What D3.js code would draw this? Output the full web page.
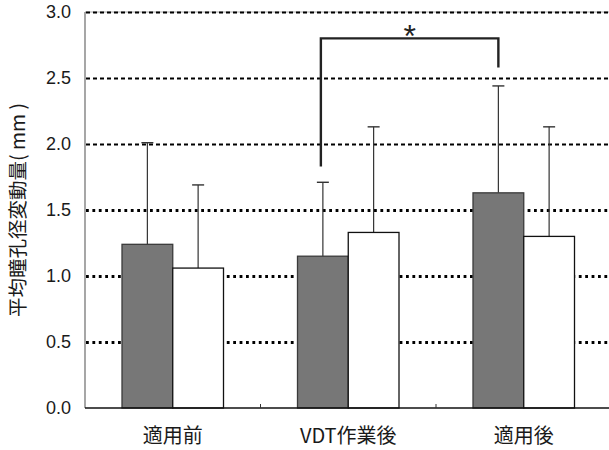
<!DOCTYPE html>
<html>
<head>
<meta charset="utf-8">
<script src="https://cdn.jsdelivr.net/npm/d3@7"></script>
<style>
  html, body { margin: 0; padding: 0; background: #fff; }
  svg { display: block; }
</style>
</head>
<body>
<svg id="chart" width="609" height="450"></svg>
<script>
// Conditions along the x axis
const categories = ["適用前", "VDT作業後", "適用後"];
// Two measurement series per condition (dark bar, white bar)
const seriesNames = ["s1", "s2"];
const meanS1 = [1.24, 1.15, 1.63];
const meanS2 = [1.06, 1.33, 1.30];
const sdS1 = [0.77, 0.56, 0.81];
const sdS2 = [0.63, 0.80, 0.83];
// Y axis ticks
const yTicks = [0, 0.5, 1.0, 1.5, 2.0, 2.5, 3.0];
const yTitle = "平均瞳孔径変動量( mm )";
// Significance bracket between s1 of VDT作業後 and s1 of 適用後
const bracket = { from: "VDT作業後", to: "適用後", series: "s1", top: 2.80, leftEnd: 1.83, rightEnd: 2.58, label: "*" };

const rows = categories.map((c, i) => ({
  cat: c,
  bars: [
    { key: "s1", mean: meanS1[i], sd: sdS1[i] },
    { key: "s2", mean: meanS2[i], sd: sdS2[i] }
  ]
}));

const svg = d3.select("#chart");
const plotLeft = 85, plotTop = 12, plotBottom = 408, plotRight = 611.5, W = 609;

const y = d3.scaleLinear().domain([0, 3]).range([plotBottom, plotTop]);
const x0 = d3.scaleBand().domain(categories).range([plotLeft, plotRight]).padding(0);
const x1 = d3.scaleBand().domain(seriesNames).range([0, x0.bandwidth()])
  .paddingInner(0).paddingOuter(0.729);

// Gridlines (upper ones are dashed, lower ones heavier dots)
svg.append("line")
  .attr("x1", plotLeft).attr("x2", W).attr("y1", y(3)).attr("y2", y(3))
  .attr("stroke", "#aaa").attr("stroke-width", 1);
svg.append("g").selectAll("line")
  .data(yTicks.filter(d => d > 0))
  .join("line")
  .attr("x1", plotLeft + 1).attr("x2", W)
  .attr("y1", d => Math.round(y(d)) + 0.5).attr("y2", d => Math.round(y(d)) + 0.5)
  .attr("stroke", "#000")
  .attr("stroke-width", d => d >= 2 ? 1.8 : 2.8)
  .attr("stroke-dasharray", d => d >= 2 ? "4,3" : "2.8,3.6");

// Bars
const groups = svg.append("g").selectAll("g")
  .data(rows)
  .join("g")
  .attr("transform", d => `translate(${x0(d.cat)},0)`);

// Error bars (upper only)
groups.selectAll("g.err")
  .data(d => d.bars)
  .join("g")
  .attr("class", "err")
  .each(function (d) {
    const cx = x1(d.key) + x1.bandwidth() / 2;
    const g = d3.select(this);
    g.append("line")
      .attr("x1", cx).attr("x2", cx)
      .attr("y1", y(d.mean)).attr("y2", y(d.mean + d.sd))
      .attr("stroke", "#333").attr("stroke-width", 1.2);
    g.append("line")
      .attr("x1", cx - 6).attr("x2", cx + 6)
      .attr("y1", y(d.mean + d.sd)).attr("y2", y(d.mean + d.sd))
      .attr("stroke", "#333").attr("stroke-width", 1.4);
  });

groups.selectAll("rect")
  .data(d => d.bars)
  .join("rect")
  .attr("x", d => x1(d.key))
  .attr("y", d => y(d.mean))
  .attr("width", x1.bandwidth())
  .attr("height", d => y(0) - y(d.mean))
  .attr("fill", d => d.key === "s1" ? "#777777" : "#ffffff")
  .attr("stroke", d => d.key === "s1" ? "#3a3a3a" : "#111")
  .attr("stroke-width", 1.3);

// Axes lines
svg.append("line")
  .attr("x1", plotLeft).attr("x2", plotLeft).attr("y1", plotTop).attr("y2", plotBottom)
  .attr("stroke", "#777").attr("stroke-width", 1.3);
svg.append("line")
  .attr("x1", plotLeft).attr("x2", W).attr("y1", plotBottom).attr("y2", plotBottom)
  .attr("stroke", "#111").attr("stroke-width", 1.3);
// Small inner ticks between categories
svg.append("g").selectAll("line")
  .data(categories.slice(1))
  .join("line")
  .attr("x1", d => x0(d)).attr("x2", d => x0(d))
  .attr("y1", plotBottom).attr("y2", plotBottom - 4)
  .attr("stroke", "#333").attr("stroke-width", 1);

// Y tick labels
svg.append("g").selectAll("text")
  .data(yTicks)
  .join("text")
  .attr("x", 71)
  .attr("y", d => y(d))
  .attr("dy", "0.36em")
  .attr("text-anchor", "end")
  .attr("font-family", "Liberation Sans, Arial, sans-serif")
  .attr("font-size", 18)
  .attr("fill", "#1a1a1a")
  .text(d => d.toFixed(1));

// X category labels
svg.append("g").selectAll("text")
  .data(categories)
  .join("text")
  .attr("x", d => x0(d) + x0.bandwidth() / 2)
  .attr("y", 443)
  .attr("text-anchor", "middle")
  .attr("font-family", "Noto Sans CJK JP, sans-serif")
  .attr("font-size", 20)
  .attr("fill", "#1a1a1a")
  .text(d => d);

// Y axis title
svg.append("text")
  .attr("transform", "translate(25,210) rotate(-90)")
  .attr("text-anchor", "middle")
  .attr("font-family", "Noto Sans CJK JP, sans-serif")
  .attr("font-size", 19.5)
  .attr("fill", "#1a1a1a")
  .text(yTitle);

// Significance bracket
const bx1 = x0(bracket.from) + x1(bracket.series) + x1.bandwidth() / 2 - 2;
const bx2 = x0(bracket.to) + x1(bracket.series) + x1.bandwidth() / 2;
svg.append("path")
  .attr("d", `M${bx1},${y(bracket.leftEnd)} V${y(bracket.top)} H${bx2} V${y(bracket.rightEnd)}`)
  .attr("fill", "none")
  .attr("stroke", "#222")
  .attr("stroke-width", 2.4);
svg.append("text")
  .attr("x", (bx1 + bx2) / 2)
  .attr("y", 47)
  .attr("text-anchor", "middle")
  .attr("font-family", "Liberation Sans, Arial, sans-serif")
  .attr("font-size", 32)
  .attr("fill", "#222")
  .text(bracket.label);
</script>
</body>
</html>
